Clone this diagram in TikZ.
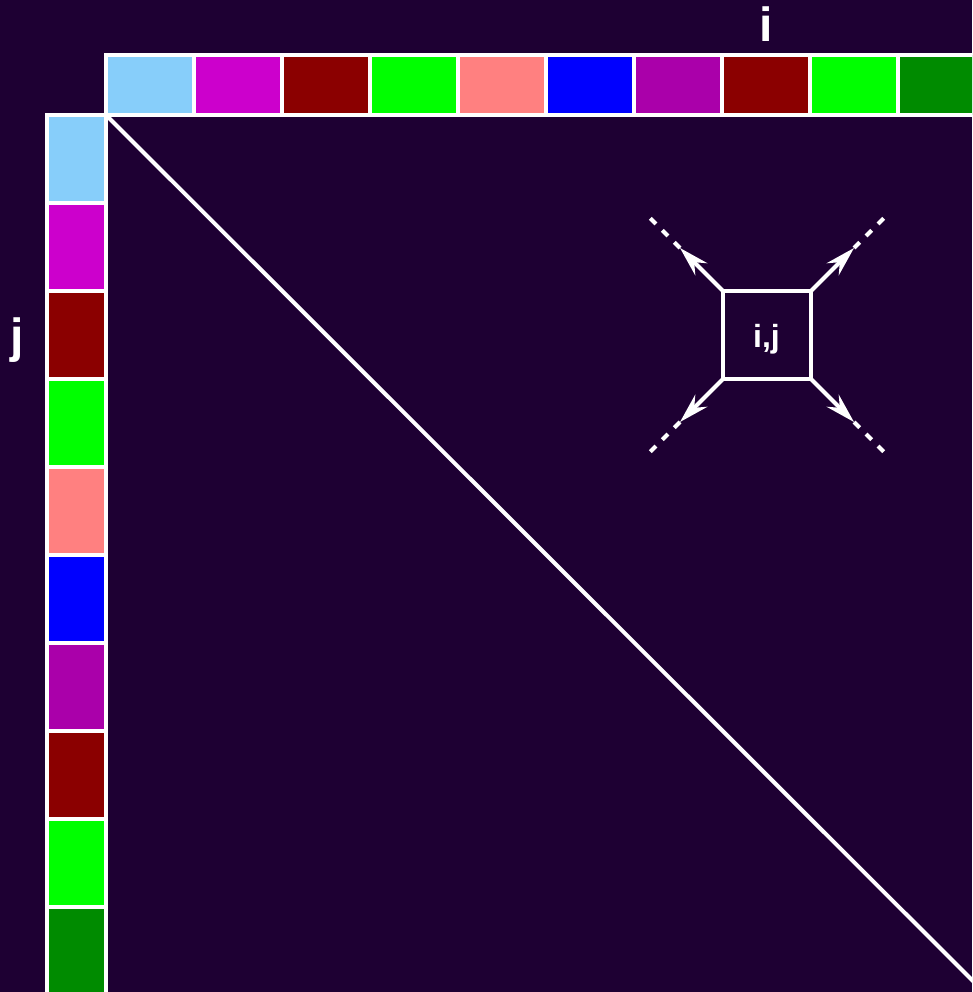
\documentclass[tikz,border=0pt]{standalone}
\usepackage{fontspec}
\setmainfont{Liberation Sans}
\usetikzlibrary{arrows.meta}
\definecolor{bg}{HTML}{1E0033}
\definecolor{cA}{HTML}{87CEFA}
\definecolor{cB}{HTML}{CC00CC}
\definecolor{cC}{HTML}{8B0000}
\definecolor{cD}{HTML}{00FF00}
\definecolor{cE}{HTML}{FF8080}
\definecolor{cF}{HTML}{0000FF}
\definecolor{cG}{HTML}{AA00AA}
\definecolor{cH}{HTML}{008B00}
\tikzset{
  cellbox/.style={draw=white, line width=4pt, minimum width=88pt, minimum height=60pt, inner sep=0pt, outer sep=0pt},
  vcellbox/.style={draw=white, line width=4pt, minimum width=59pt, minimum height=88pt, inner sep=0pt, outer sep=0pt},
  ijbox/.style={draw=white, line width=4pt, minimum width=88pt, minimum height=88pt, inner sep=0pt, outer sep=0pt},
  ijtext/.style={text=white, font=\fontsize{32}{38}\selectfont\bfseries, inner sep=0pt},
  lbl/.style={text=white, font=\fontsize{48}{56}\selectfont\bfseries, inner sep=0pt},
  arr/.style={draw=white, line width=4pt, -{Stealth[length=30pt, width=17pt, inset=10pt]}},
  dashline/.style={draw=white, line width=4pt, dash pattern=on 8pt off 9pt},
  diag/.style={draw=white, line width=4pt}
}
\begin{document}
\begin{tikzpicture}[x=1pt,y=-1pt]
\fill[bg] (0,0) rectangle (972,992);
\useasboundingbox (0,0) rectangle (972,992);
\clip (0,0) rectangle (972,992);
% top row
\foreach \c [count=\k from 0] in {cA,cB,cC,cD,cE,cF,cG,cC,cD,cH} {
  \node[cellbox, fill=\c] (t\k) at ({150+88*\k},85) {};
}
% left column
\foreach \c [count=\k from 0] in {cA,cB,cC,cD,cE,cF,cG,cC,cD,cH} {
  \node[vcellbox, fill=\c] (l\k) at (76.5,{159+88*\k}) {};
}
% diagonal
\coordinate (dend) at (977,985);
\draw[diag] (t0.south west) -- (dend);
% labels
\node[lbl, anchor=base] (li) at (766,42) {i};
\node[lbl, anchor=base] (lj) at (17,352) {j};
% box
\node[ijbox] (ij) at (767,335) {};
\node[ijtext, anchor=base] (ijt) at (766.5,347) {i,j};
\coordinate (tla) at (680,248);
\coordinate (tlb) at (649,217);
\coordinate (tra) at (854,248);
\coordinate (trb) at (885,217);
\coordinate (bla) at (680,422);
\coordinate (blb) at (649,453);
\coordinate (bra) at (854,422);
\coordinate (brb) at (885,453);
\draw[arr] (ij.north west) -- (tla);
\draw[arr] (ij.north east) -- (tra);
\draw[arr] (ij.south west) -- (bla);
\draw[arr] (ij.south east) -- (bra);
\draw[dashline] (tla) -- (tlb);
\draw[dashline] (tra) -- (trb);
\draw[dashline] (bla) -- (blb);
\draw[dashline] (bra) -- (brb);
\end{tikzpicture}
\end{document}
